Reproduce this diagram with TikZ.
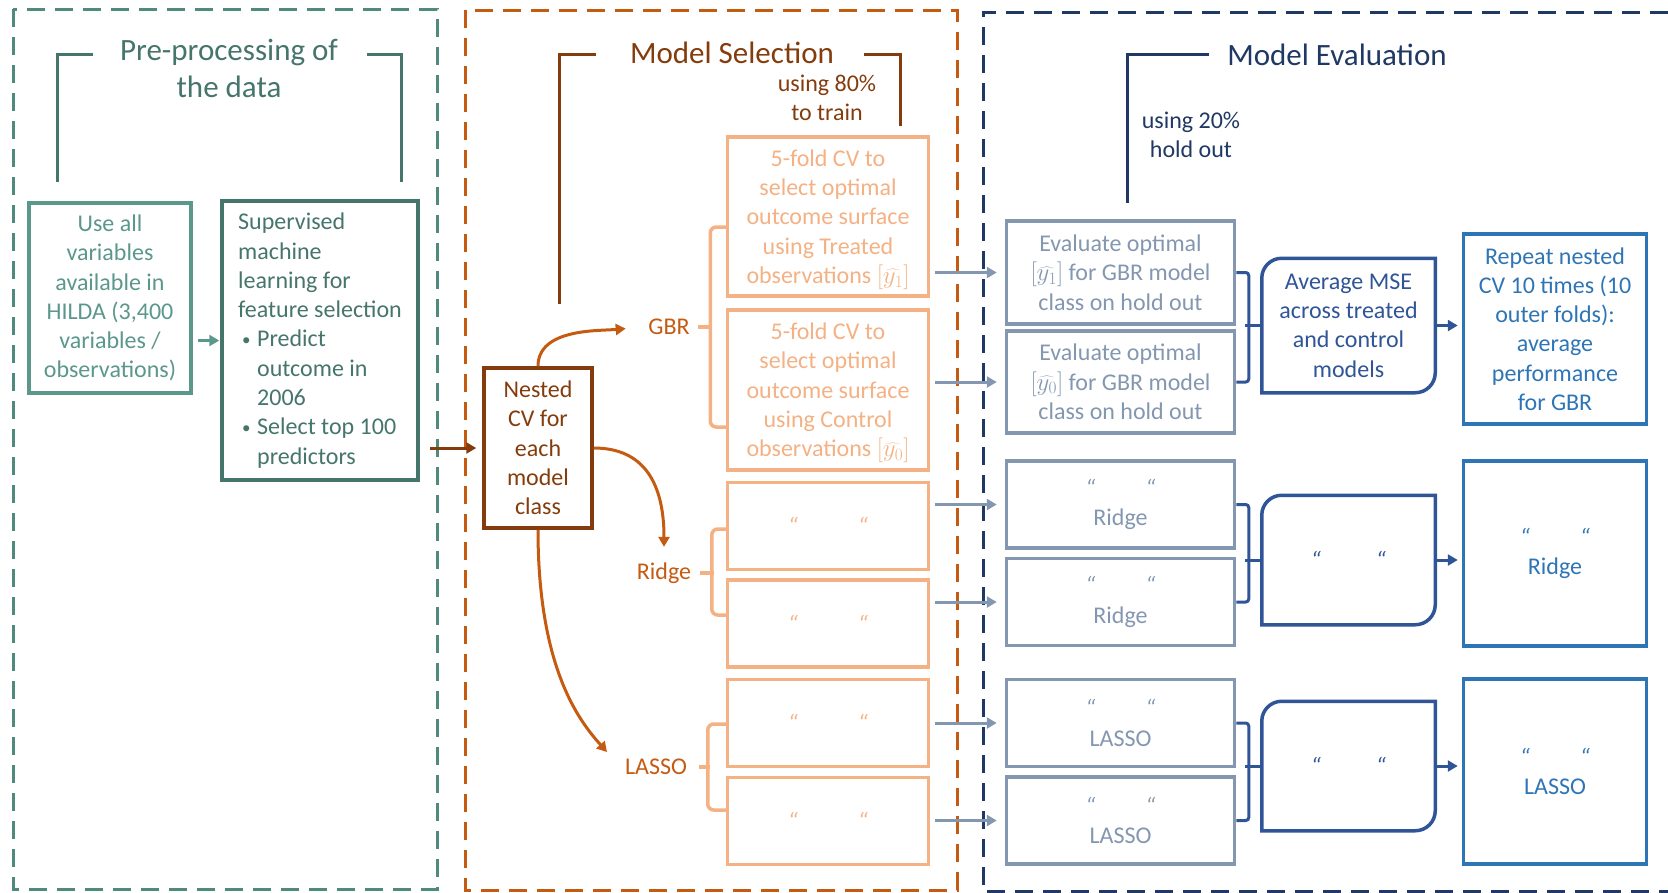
\documentclass[tikz,border=0pt]{standalone}
\usepackage{fontspec}
\setmainfont{Carlito}
\usetikzlibrary{arrows.meta}

\definecolor{preDash}{HTML}{4E8A7E}
\definecolor{preLight}{HTML}{5B978B}
\definecolor{preDark}{HTML}{45756B}
\definecolor{selBrown}{HTML}{843C0C}
\definecolor{selOrange}{HTML}{C55A11}
\definecolor{selLight}{HTML}{F4B183}
\definecolor{evalNavy}{HTML}{1F3864}
\definecolor{evalGrey}{HTML}{8497B0}
\definecolor{evalBlue}{HTML}{2F5597}
\definecolor{evalMid}{HTML}{2E75B6}

\newcommand{\boxfont}{\fontsize{24}{29.3}\selectfont}
\newcommand{\dittomark}[1]{{\itshape “\hspace{#1}“}}
\newcommand{\yhat}[1]{\smash{$[\widehat{y_{#1}}]$}}
\newcommand{\pointmark}{\makebox[19pt][l]{\hspace{4pt}\raisebox{1.5pt}{\fontsize{17}{17}\selectfont\textbullet}}}

\begin{document}
\begin{tikzpicture}[x=1pt,y=-1pt,line width=3.5pt,inner sep=0pt,
	frame/.style={line width=3pt,dash pattern=on 18pt off 10pt},
	title/.style={align=center,font=\fontsize{31}{37}\selectfont},
	box/.style={draw,rectangle,align=center,font=\boxfont},
	obox/.style={box,selLight,minimum width=201pt},
	ebox/.style={box,evalGrey,minimum width=228pt},
	avg/.style={align=center,font=\boxfont,evalBlue,minimum width=170pt},
	rep/.style={box,evalMid,minimum width=183pt},
	lab/.style={font=\boxfont,selOrange,inner sep=3pt},
	arr/.style={line width=3pt,-{Triangle[length=10pt,width=11pt]}},
	brace/.style={line width=3.5pt,selLight,rounded corners=6pt},
	bracket/.style={line width=3pt,rounded corners=3pt}]
	\useasboundingbox (0,0) rectangle (1668,892);
	
	% the three stages
	\draw [frame,preDash] (13,9) rectangle (437,889);
	\draw [frame,selOrange] (465,10) rectangle (957,890);
	\draw [frame,evalNavy] (1668,12) -- (983,12) -- (983,891) -- (1668,891);
	
	\node [title,preDark] (pre) at (229,68) {Pre-processing of\\the data};
	\node [title,selBrown] (sel) at (732,53) {Model Selection};
	\node [title,evalNavy] (eval) at (1337,55) {Model Evaluation};
	\node [align=center,font=\boxfont,selBrown] (train) at (827,98) {using 80\%\\to train};
	\node [align=center,font=\boxfont,evalNavy] (hold) at (1191,135) {using 20\%\\hold out};
	
	\draw [line width=3pt,preDark] (57,182) |- (93,54);
	\draw [line width=3pt,preDark] (367,54) -| (401,182);
	\draw [line width=3pt,selBrown] (559,304) |- (596,54);
	\draw [line width=3pt,selBrown] (864,54) -| (900,126);
	\draw [line width=3pt,evalNavy] (1127,203) |- (1209,54);
	
	% pre-processing
	\node [box,preLight,minimum width=162pt,minimum height=190pt] at (110,298) (use)
		{Use all\\variables\\available in\\HILDA (3,400\\variables /\\observations)};
	\node [box,preDark,align=left,minimum width=196pt,minimum height=279pt] at (320,340.5) (sup)
		{Supervised\\machine\\learning for\\feature selection\\
		\pointmark Predict\\
		\hspace*{19pt}outcome in\\
		\hspace*{19pt}2006\\
		\pointmark Select top 100\\
		\hspace*{19pt}predictors};
	\draw [arr,preLight,shorten <=5pt,shorten >=1pt] (use.east |- sup.west) to (sup.west);
	
	% model selection
	\node [box,selBrown,minimum width=108pt,minimum height=160pt] at (538,448) (cv)
		{Nested\\CV for\\each\\model\\class};
	\draw [arr,selBrown,shorten <=10pt,shorten >=6pt] (sup.east |- cv.west) to (cv.west);
	
	\node [lab] at (669,327) (gbr) {GBR};
	\node [lab] at (664,573) (ridge) {Ridge};
	\node [lab] at (656,767) (lasso) {LASSO};
	
	\draw [arr,selOrange,shorten >=18pt] (cv.north) .. controls +(0,-38) and +(-45,4) .. (gbr.west);
	\draw [arr,selOrange,shorten >=11pt] (cv.east) .. controls +(50,0) and +(0,-75) .. (ridge.north);
	\draw [arr,selOrange,shorten >=20pt] (cv.south) .. controls +(0,140) and +(-40,-45) .. (lasso.west);
	
	\node [obox,minimum height=159pt] at (828,216.5) (gT)
		{5-fold CV to\\select optimal\\outcome surface\\using Treated\\observations \yhat{1}};
	\node [obox,minimum height=160pt] at (828,390) (gC)
		{5-fold CV to\\select optimal\\outcome surface\\using Control\\observations \yhat{0}};
	\foreach \n/\y in {rT/526,rC/623.5,lT/723,lC/821}{
		\node [obox,minimum height=87pt] at (828,\y) (\n) {\dittomark{60pt}};
	}
	
	\draw [brace] (gT.west |- 0,227) -- ++(-15.5,0) |- (gC.west |- 0,427);
	\draw [brace,shorten <=4pt] (gbr.east) -- (gbr.east -| 712,0);
	\draw [brace] (rT.west |- 0,529) -- ++(-14,0) |- (rC.west |- 0,615);
	\draw [brace,shorten <=4pt] (ridge.east) -- (ridge.east -| 714,0);
	\draw [brace] (lT.west |- 0,724) -- ++(-18,0) |- (lC.west |- 0,810);
	\draw [brace,shorten <=7pt] (lasso.east) -- (lasso.east -| 710,0);
	
	% model evaluation
	\node [ebox,minimum height=103pt] at (1120.5,272.5) (egT)
		{Evaluate optimal\\\yhat{1} for GBR model\\class on hold out};
	\node [ebox,minimum height=102pt] at (1120.5,382) (egC)
		{Evaluate optimal\\\yhat{0} for GBR model\\class on hold out};
	\foreach \n/\y/\m in {erT/504.5/Ridge,erC/602/Ridge,elT/723/LASSO,elC/820.5/LASSO}{
		\node [ebox,minimum height=87pt] at (1120.5,\y) (\n) {\dittomark{50pt}\\\m};
	}
	
	\foreach \a/\b in {gT/egT,gC/egC,rT/erT,rC/erC,lT/elT,lC/elC}{
		\draw [arr,evalGrey,shorten <=5pt,shorten >=8pt] (\a.east |- \b.west) to (\b.west);
	}
	
	\node [avg,minimum height=131pt] at (1348.5,325.5) (ag)
		{Average MSE\\across treated\\and control\\models};
	\node [avg,minimum height=126pt] at (1348.5,560) (ar) {\dittomark{55pt}};
	\node [avg,minimum height=126pt] at (1348.5,766) (al) {\dittomark{55pt}};
	\foreach \n in {ag,ar,al}{
		\draw [evalBlue] (\n.west) [rounded corners=20pt] -- (\n.north west) -- (\n.north)
			[sharp corners] -- (\n.north east) -- (\n.east)
			[rounded corners=20pt] -- (\n.south east) -- (\n.south)
			[sharp corners] -- (\n.south west) -- cycle;
	}
	
	\draw [bracket,evalBlue] (egT.east) -- ++(12.5,0) |- (egC.east);
	\draw [bracket,evalBlue] (ag.west) -- ++(-16.5,0);
	\draw [bracket,evalBlue] (erT.east) -- ++(12.5,0) |- (erC.east);
	\draw [bracket,evalBlue] (ar.west) -- ++(-16.5,0);
	\draw [bracket,evalBlue] (elT.east) -- ++(12.5,0) |- (elC.east);
	\draw [bracket,evalBlue] (al.west) -- ++(-16.5,0);
	
	\node [rep,minimum height=190pt] at (1555,329) (pg)
		{Repeat nested\\CV 10 times (10\\outer folds):\\average\\performance\\for GBR};
	\node [rep,minimum height=185pt] at (1555,553.5) (pr) {\dittomark{50pt}\\Ridge};
	\node [rep,minimum height=185pt] at (1555,771.5) (pl) {\dittomark{50pt}\\LASSO};
	
	\draw [arr,evalBlue,shorten <=2pt,shorten >=4pt] (ag.east) to (ag.east -| pg.west);
	\draw [arr,evalBlue,shorten <=2pt,shorten >=4pt] (ar.east) to (ar.east -| pr.west);
	\draw [arr,evalBlue,shorten <=2pt,shorten >=4pt] (al.east) to (al.east -| pl.west);
	
\end{tikzpicture}
\end{document}
